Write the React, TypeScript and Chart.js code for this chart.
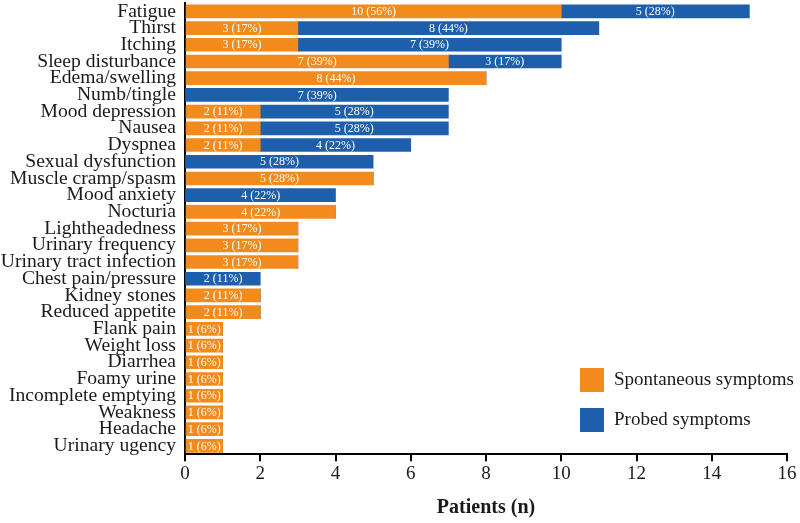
import React, { useEffect, useRef } from "react";
import { Chart, registerables } from "chart.js";

Chart.register(...registerables);

const categories = [
  "Fatigue", "Thirst", "Itching", "Sleep disturbance", "Edema/swelling", "Numb/tingle",
  "Mood depression", "Nausea", "Dyspnea", "Sexual dysfunction", "Muscle cramp/spasm",
  "Mood anxiety", "Nocturia", "Lightheadedness", "Urinary frequency", "Urinary tract infection",
  "Chest pain/pressure", "Kidney stones", "Reduced appetite", "Flank pain", "Weight loss",
  "Diarrhea", "Foamy urine", "Incomplete emptying", "Weakness", "Headache", "Urinary ugency",
];

const spontaneous = [10, 3, 3, 7, 8, 0, 2, 2, 2, 0, 5, 0, 4, 3, 3, 3, 0, 2, 2, 1, 1, 1, 1, 1, 1, 1, 1];
const probed = [5, 8, 7, 3, 0, 7, 5, 5, 4, 5, 0, 4, 0, 0, 0, 0, 2, 0, 0, 0, 0, 0, 0, 0, 0, 0, 0];

const TOTAL_PATIENTS = 18;
const xTicks = [0, 2, 4, 6, 8, 10, 12, 14, 16];

const FONT = "'Liberation Serif', 'Times New Roman', serif";
const ORANGE = "#F28B1C";
const BLUE = "#1E5FAB";

const valueLabels = {
  id: "valueLabels",
  afterDatasetsDraw(chart: any) {
    const ctx = chart.ctx;
    ctx.save();
    ctx.fillStyle = "#ffffff";
    ctx.font = `12px ${FONT}`;
    ctx.textAlign = "center";
    ctx.textBaseline = "middle";
    chart.data.datasets.forEach((ds: any, di: number) => {
      const meta = chart.getDatasetMeta(di);
      meta.data.forEach((el: any, i: number) => {
        const v = ds.data[i];
        if (!v) return;
        const { x, y, base } = el.getProps(["x", "y", "base"], true);
        const pct = Math.round((v / TOTAL_PATIENTS) * 100);
        ctx.fillText(`${v} (${pct}%)`, (x + base) / 2, y + 0.5);
      });
    });
    ctx.restore();
  },
};

const customLegend = {
  id: "customLegend",
  afterDraw(chart: any) {
    const ctx = chart.ctx;
    ctx.save();
    chart.data.datasets.forEach((ds: any, i: number) => {
      const top = 368 + i * 40;
      ctx.fillStyle = ds.backgroundColor;
      ctx.fillRect(580, top, 24, 24);
      ctx.fillStyle = "#1a1a1a";
      ctx.font = `19px ${FONT}`;
      ctx.textAlign = "left";
      ctx.textBaseline = "middle";
      ctx.fillText(ds.label, 614, top + 12);
    });
    ctx.restore();
  },
};

export default function App() {
  const ref = useRef<HTMLCanvasElement | null>(null);
  useEffect(() => {
    if (!ref.current) return;
    const chart = new Chart(ref.current, {
      type: "bar",
      data: {
        labels: categories,
        datasets: [
          { label: "Spontaneous symptoms", data: spontaneous, backgroundColor: ORANGE, barThickness: 13 },
          { label: "Probed symptoms", data: probed, backgroundColor: BLUE, barThickness: 13 },
        ],
      },
      options: {
        indexAxis: "y",
        animation: false,
        responsive: false,
        maintainAspectRatio: false,
        layout: { padding: { top: 3, right: 13, left: 0, bottom: 0 } },
        plugins: { legend: { display: false }, tooltip: { enabled: false } },
        scales: {
          x: {
            stacked: true,
            min: 0,
            max: 16,
            afterBuildTicks: (scale: any) => {
              scale.ticks = xTicks.map((v) => ({ value: v }));
            },
            ticks: { color: "#1a1a1a", font: { family: FONT, size: 19 }, padding: 1 },
            grid: { display: true, drawOnChartArea: false, drawTicks: true, tickLength: 7, color: "#000", lineWidth: 2 },
            border: { display: true, color: "#000", width: 2 },
            title: {
              display: true,
              text: "Patients (n)",
              color: "#1a1a1a",
              font: { family: FONT, size: 20, weight: "bold" },
              padding: { top: 10, bottom: 3 },
            },
          },
          y: {
            stacked: true,
            afterFit: (scale: any) => {
              scale.width = 185;
              scale.paddingTop = 0;
              scale.paddingBottom = 0;
            },
            ticks: { color: "#1a1a1a", font: { family: FONT, size: 19.6, lineHeight: 0.9 }, padding: 9, autoSkip: false },
            grid: { display: true, drawOnChartArea: false, drawTicks: false, color: "#000", lineWidth: 2 },
            border: { display: true, color: "#000", width: 2 },
          },
        },
      },
      plugins: [valueLabels, customLegend],
    } as any);
    return () => chart.destroy();
  }, []);
  return (
    <div style={{ position: "absolute", left: 0, top: 0, width: 800, height: 523, background: "#fff" }}>
      <canvas ref={ref} width={800} height={523} />
    </div>
  );
}
